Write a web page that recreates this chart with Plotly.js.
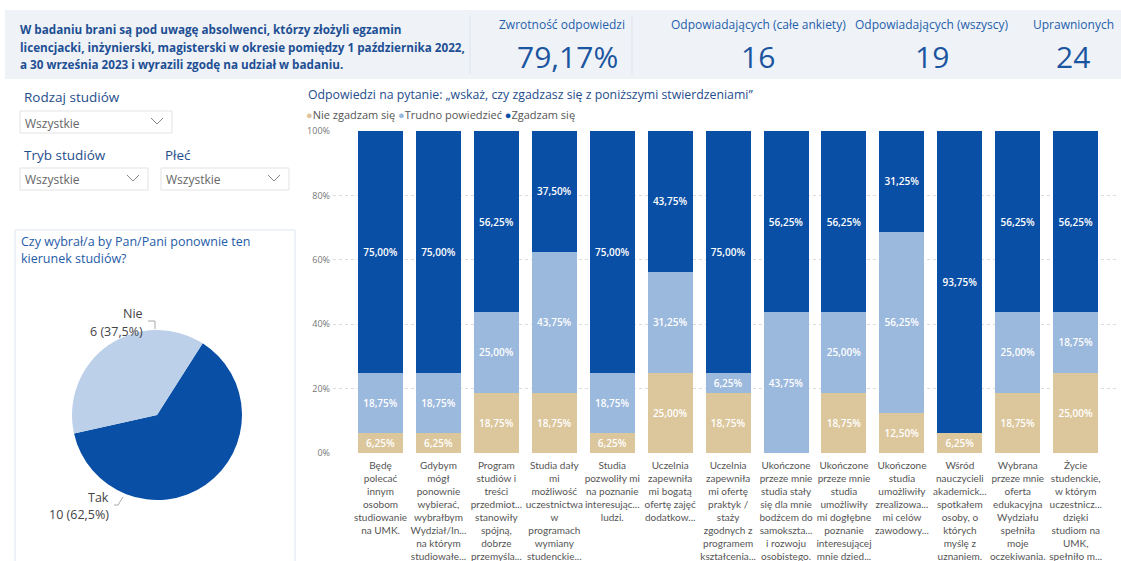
<!DOCTYPE html>
<html><head><meta charset="utf-8">
<script src="https://cdn.plot.ly/plotly-3.0.1.min.js"></script>
<style>html,body{margin:0;padding:0;background:#fff;overflow:hidden}#chart{width:1121px;height:561px}</style>
</head><body><div id="chart"></div>
<script>
const categories = [
  'Będę<br>polecać<br>innym<br>osobom<br>studiowanie<br>na UMK.',
  'Gdybym<br>mógł<br>ponownie<br>wybierać,<br>wybrałbym<br>Wydział/In...<br>na którym<br>studiowałe...',
  'Program<br>studiów i<br>treści<br>przedmiot...<br>stanowiły<br>spójną,<br>dobrze<br>przemyśla...',
  'Studia dały<br>mi<br>możliwość<br>uczestnictwa<br>w<br>programach<br>wymiany<br>studenckie...',
  'Studia<br>pozwoliły mi<br>na poznanie<br>interesując...<br>ludzi.',
  'Uczelnia<br>zapewniła<br>mi bogatą<br>ofertę zajęć<br>dodatkow...',
  'Uczelnia<br>zapewniła<br>mi ofertę<br>praktyk /<br>staży<br>zgodnych z<br>programem<br>kształcenia...',
  'Ukończone<br>przeze mnie<br>studia stały<br>się dla mnie<br>bodźcem do<br>samokszta...<br>i rozwoju<br>osobistego.',
  'Ukończone<br>przeze mnie<br>studia<br>umożliwiły<br>mi dogłębne<br>poznanie<br>interesującej<br>mnie dzied...',
  'Ukończone<br>studia<br>umożliwiły<br>zrealizowa...<br>mi celów<br>zawodowy...',
  'Wśród<br>nauczycieli<br>akademick...<br>spotkałem<br>osoby, o<br>których<br>myślę z<br>uznaniem.',
  'Wybrana<br>przeze mnie<br>oferta<br>edukacyjna<br>Wydziału<br>spełniła<br>moje<br>oczekiwania.',
  'Życie<br>studenckie,<br>w którym<br>uczestnicz...<br>dzięki<br>studiom na<br>UMK,<br>spełniło m...'
];
const nieZgadzam = [6.25, 6.25, 18.75, 18.75, 6.25, 25, 18.75, 0, 18.75, 12.5, 6.25, 18.75, 25];
const trudno     = [18.75, 18.75, 25, 43.75, 18.75, 31.25, 6.25, 43.75, 25, 56.25, 0, 25, 18.75];
const zgadzam    = [75, 75, 56.25, 37.5, 75, 43.75, 75, 56.25, 56.25, 31.25, 93.75, 56.25, 56.25];
const seriesNames = ['Nie zgadzam się', 'Trudno powiedzieć', 'Zgadzam się'];
const seriesColors = ['#dcc69b', '#9bb8dd', '#0a4fa6'];
const yTicks = [0, 20, 40, 60, 80, 100];

const pieLabels = ['Tak', 'Nie'];
const pieValues = [10, 6];
const pieColors = ['#0a4fa6', '#bdd0ea'];

const kpiLabels = ['Zwrotność odpowiedzi', 'Odpowiadających (całe ankiety)', 'Odpowiadających (wszyscy)', 'Uprawnionych'];
const kpiValues = ['79,17%', '16', '19', '24'];

const headerLines = [
  'W badaniu brani są pod uwagę absolwenci, którzy złożyli egzamin',
  'licencjacki, inżynierski, magisterski w okresie pomiędzy 1 października 2022,',
  'a 30 września 2023 i wyrazili zgodę na udział w badaniu.'
];
const filterLabels = ['Rodzaj studiów', 'Tryb studiów', 'Płeć'];
const filterValues = ['Wszystkie', 'Wszystkie', 'Wszystkie'];
const chartTitle = 'Odpowiedzi na pytanie: „wskaż, czy zgadzasz się z poniższymi stwierdzeniami”';
const pieTitle = ['Czy wybrał/a by Pan/Pani ponownie ten', 'kierunek studiów?'];

const W = 1121, H = 561;
const X = p => p / W;
const Y = p => 1 - p / H;
const FONT = 'Open Sans, sans-serif';
const fmt = v => v > 0 ? v.toFixed(2).replace('.', ',') + '%' : '';

const seriesData = [nieZgadzam, trudno, zgadzam];
const traces = seriesData.map((arr, i) => ({
  type: 'bar', x: categories.map((c, k) => k), y: arr, name: seriesNames[i],
  marker: {color: seriesColors[i]},
  text: arr.map(fmt), textposition: 'inside', insidetextanchor: 'middle',
  textangle: 0, constraintext: 'none',
  textfont: {color: '#ffffff', size: 10, family: FONT, weight: 600},
  hoverinfo: 'skip', showlegend: false, xaxis: 'x', yaxis: 'y'
}));

traces.push({
  type: 'pie', labels: pieLabels, values: pieValues, sort: false,
  direction: 'clockwise', rotation: 32.5, textinfo: 'none',
  marker: {colors: pieColors, line: {width: 0}},
  domain: {x: [X(72), X(242)], y: [Y(500), Y(330)]},
  showlegend: false, hoverinfo: 'skip'
});

const ann = [];
const shapes = [];
// header band
shapes.push({type: 'rect', xref: 'paper', yref: 'paper', x0: X(5), x1: X(1121), y0: Y(79), y1: Y(10), fillcolor: '#eff3f8', line: {width: 0}, layer: 'below'});
shapes.push({type: 'line', xref: 'paper', yref: 'paper', x0: X(470), x1: X(470), y0: Y(74), y1: Y(15), line: {color: '#dde3ea', width: 1}});
shapes.push({type: 'line', xref: 'paper', yref: 'paper', x0: X(632), x1: X(632), y0: Y(74), y1: Y(15), line: {color: '#dde3ea', width: 1}});
const headerY = [29, 47, 64];
headerLines.forEach((t, i) => ann.push({xref: 'paper', yref: 'paper', x: X(18), y: Y(headerY[i]), xanchor: 'left', yanchor: 'middle', showarrow: false, text: t, font: {family: FONT, size: 11.7, color: '#1e4f93', weight: 700}}));
const kpiX = [562, 758, 932, 1073];
kpiLabels.forEach((t, i) => {
  ann.push({xref: 'paper', yref: 'paper', x: X(kpiX[i]), y: Y(25), xanchor: 'center', yanchor: 'middle', showarrow: false, text: t, font: {family: FONT, size: 12, color: '#2460aa'}});
  ann.push({xref: 'paper', yref: 'paper', x: X(kpiX[i] + (i === 0 ? 5 : 0)), y: Y(57), xanchor: 'center', yanchor: 'middle', showarrow: false, text: kpiValues[i], font: {family: FONT, size: 30, color: '#1b55a0'}});
});

// filters
const fl = [[22, 97, 20, 111, 172], [22, 155, 20, 168, 148], [163, 155, 161, 168, 289]];
fl.forEach((f, i) => {
  ann.push({xref: 'paper', yref: 'paper', x: X(f[0]), y: Y(f[1]), xanchor: 'left', yanchor: 'middle', showarrow: false, text: filterLabels[i], font: {family: FONT, size: 13.5, color: '#1f4e8c'}});
  shapes.push({type: 'rect', xref: 'paper', yref: 'paper', x0: X(f[2]), x1: X(f[4]), y0: Y(f[3] + 22), y1: Y(f[3]), line: {color: '#e3e3e3', width: 1}, fillcolor: '#ffffff'});
  ann.push({xref: 'paper', yref: 'paper', x: X(f[2] + 3), y: Y(f[3] + 12), xanchor: 'left', yanchor: 'middle', showarrow: false, text: filterValues[i], font: {family: FONT, size: 12, color: '#666666'}});
  const cx = f[4] - 15, cy = f[3] + 10;
  shapes.push({type: 'path', xref: 'paper', yref: 'paper', path: `M ${X(cx - 6)},${Y(cy - 3)} L ${X(cx)},${Y(cy + 3)} L ${X(cx + 6)},${Y(cy - 3)}`, line: {color: '#888888', width: 1}});
});

// pie panel
shapes.push({type: 'rect', xref: 'paper', yref: 'paper', x0: X(15), x1: X(295), y0: Y(566), y1: Y(230), line: {color: '#dfe7f0', width: 1}, layer: 'below'});
pieTitle.forEach((t, i) => ann.push({xref: 'paper', yref: 'paper', x: X(19), y: Y(241 + i * 17), xanchor: 'left', yanchor: 'middle', showarrow: false, text: t, font: {family: FONT, size: 12.5, color: '#1f5ca8'}}));
const total = pieValues.reduce((a, b) => a + b, 0);
const pieLbl = pieValues.map(v => v + ' (' + (v / total * 100).toFixed(1).replace('.', ',') + '%)');
// Nie label (index 1)
ann.push({xref: 'paper', yref: 'paper', x: X(145), y: Y(313), xanchor: 'right', yanchor: 'middle', showarrow: false, text: pieLabels[1], font: {family: FONT, size: 12.5, color: '#444444'}});
ann.push({xref: 'paper', yref: 'paper', x: X(145), y: Y(331), xanchor: 'right', yanchor: 'middle', showarrow: false, text: pieLbl[1], font: {family: FONT, size: 12.5, color: '#444444'}});
shapes.push({type: 'path', xref: 'paper', yref: 'paper', path: `M ${X(148)},${Y(321)} L ${X(155)},${Y(321)} L ${X(155)},${Y(329)}`, line: {color: '#aaaaaa', width: 1}});
// Tak label (index 0)
ann.push({xref: 'paper', yref: 'paper', x: X(111), y: Y(497), xanchor: 'right', yanchor: 'middle', showarrow: false, text: pieLabels[0], font: {family: FONT, size: 12.5, color: '#444444'}});
ann.push({xref: 'paper', yref: 'paper', x: X(111), y: Y(514), xanchor: 'right', yanchor: 'middle', showarrow: false, text: pieLbl[0], font: {family: FONT, size: 12.5, color: '#444444'}});
shapes.push({type: 'path', xref: 'paper', yref: 'paper', path: `M ${X(114)},${Y(505)} L ${X(118)},${Y(505)} L ${X(123)},${Y(497)}`, line: {color: '#aaaaaa', width: 1}});

// bar chart title and legend
ann.push({xref: 'paper', yref: 'paper', x: X(306), y: Y(94), xanchor: 'left', yanchor: 'middle', showarrow: false, text: chartTitle, font: {family: FONT, size: 12.3, color: '#1f4e8c'}});
const legendText = seriesNames.map((n, i) => `<span style="color:${seriesColors[i]}">●</span>${n}`).join(' ');
ann.push({xref: 'paper', yref: 'paper', x: X(304), y: Y(114), xanchor: 'left', yanchor: 'middle', showarrow: false, text: legendText, font: {family: FONT, size: 11, color: '#555555'}});

const layout = {
  width: W, height: H, margin: {l: 0, r: 0, t: 0, b: 0},
  paper_bgcolor: '#ffffff', plot_bgcolor: 'rgba(0,0,0,0)',
  separators: ',.', barmode: 'stack', bargap: 0.223,
  font: {family: FONT},
  xaxis: {domain: [X(333), X(1118)], range: [-0.82, 12.73], tickmode: 'array', tickvals: categories.map((c, k) => k), ticktext: categories,
    tickfont: {size: 10, color: '#555555', family: 'Lato, Open Sans, sans-serif'}, ticks: '', showgrid: false, zeroline: false, showline: false, fixedrange: true, tickangle: 0, ticklabelstandoff: 5},
  yaxis: {domain: [Y(453), Y(131)], range: [0, 100], tickmode: 'array', tickvals: yTicks, ticktext: yTicks.map(v => v + '%'),
    tickfont: {size: 9, color: '#777777', family: FONT}, showgrid: true, gridcolor: '#dcdcdc', griddash: 'dot', gridwidth: 1, zeroline: false, showline: false, ticks: '', ticklabelstandoff: 2},
  annotations: ann, shapes: shapes, showlegend: false
};
Plotly.newPlot('chart', traces, layout, {displayModeBar: false, staticPlot: true});
</script></body></html>
